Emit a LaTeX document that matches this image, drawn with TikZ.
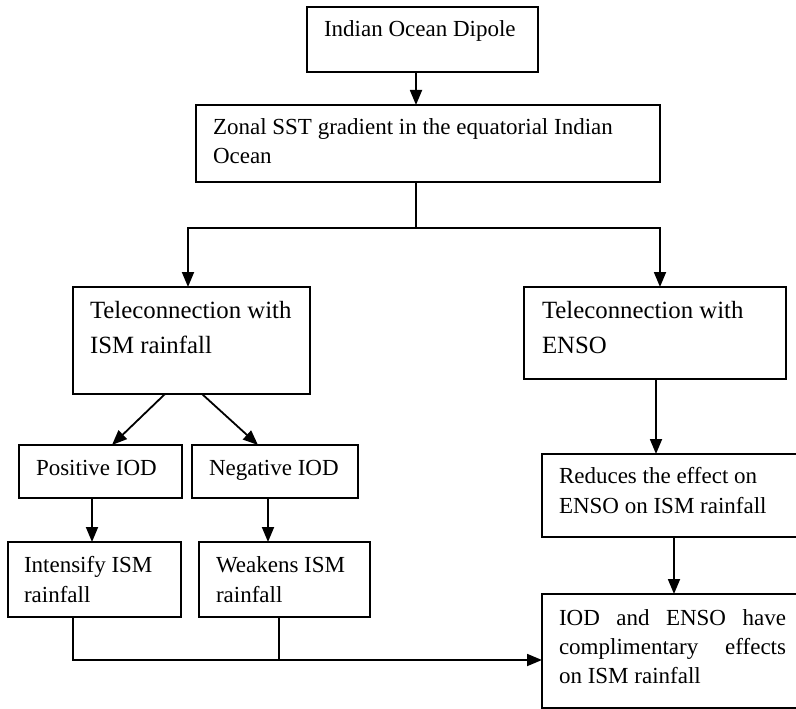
\documentclass[tikz,border=0pt]{standalone}
\usepackage{fontspec}
\setmainfont{Liberation Serif}
\usetikzlibrary{arrows.meta}
\newcommand{\mlines}[4]{\parbox[t]{#1}{\fontsize{#2}{#3}\selectfont #4}}
\newcommand{\bx}[5]{\node[box, minimum width={(#4)-(#2)}, minimum height={(#5)-(#3)}] (#1) at (#2,#3) {};}
\begin{document}
\begin{tikzpicture}[x=1pt,y=-1pt,
  box/.style={draw, line width=1.8pt, inner sep=0pt, outer sep=0pt, anchor=north west},
  txt/.style={anchor=base west, inner sep=0pt, outer sep=0pt, font=\fontsize{23}{29}\selectfont},
  conn/.style={line width=1.8pt},
  arr/.style={conn, -{Triangle[length=15pt,width=12pt]}}]
\useasboundingbox (0,0) rectangle (796,709);
\clip (0,0) rectangle (796,709);
% boxes
\bx{b1}{307}{7}{538}{72}
\bx{b2}{196}{105}{660}{182}
\bx{b3}{73}{287}{310}{394}
\bx{b4}{524}{287}{786}{379}
\bx{b5}{19}{445}{182}{498}
\bx{b6}{192}{445}{358}{498}
\bx{b7}{8}{542}{181}{617}
\bx{b8}{199}{542}{370}{617}
\bx{b9}{542}{454}{805}{537}
\bx{b10}{542}{594}{805}{708}
% texts
\node[txt] (t1) at (324,37) {Indian Ocean Dipole};
\node[txt] (t2) at (213,135) {\mlines{440pt}{23}{29}{Zonal SST gradient in the equatorial Indian\\Ocean}};
\node[txt] (t3) at (90,318) {\mlines{215pt}{24.8}{35}{Teleconnection with\\ISM rainfall}};
\node[txt] (t4) at (542,318) {\mlines{240pt}{24.8}{35}{Teleconnection with\\ENSO}};
\node[txt] (t5) at (36,475) {Positive IOD};
\node[txt] (t6) at (209,475) {Negative IOD};
\node[txt] (t7) at (24,572) {\mlines{155pt}{23}{30}{Intensify ISM\\rainfall}};
\node[txt] (t8) at (216,572) {\mlines{155pt}{23}{30}{Weakens ISM\\rainfall}};
\node[txt] (t9) at (559,483) {\mlines{230pt}{23}{30}{Reduces the effect on\\ENSO on ISM rainfall}};
\node[txt] (t10) at (559,625) {\mlines{227pt}{23}{29}{\makebox[\linewidth][s]{IOD and ENSO have}\\\makebox[\linewidth][s]{complimentary effects}\\on ISM rainfall}};
% helper coordinates
\coordinate (xa) at (416,0);
\coordinate (xl) at (188,0);
\coordinate (xr) at (660,0);
\coordinate (j) at (416,228);
\coordinate (d1) at (165,0);
\coordinate (d2) at (112,0);
\coordinate (d3) at (202,0);
\coordinate (d4) at (258,0);
\coordinate (xp) at (92,0);
\coordinate (xn) at (268,0);
\coordinate (xe) at (656,0);
\coordinate (xf) at (674,0);
\coordinate (xi) at (73,0);
\coordinate (xw) at (279,0);
\coordinate (jy) at (0,660);
% connectors
\draw[arr] (b1.south -| xa) -- (b2.north -| xa);
\draw[conn] (b2.south -| xa) -- (j);
\draw[arr] (j) -| (b3.north -| xl);
\draw[arr] (j) -| (b4.north -| xr);
\draw[arr] (b3.south -| d1) -- (b5.north -| d2);
\draw[arr] (b3.south -| d3) -- (b6.north -| d4);
\draw[arr] (b5.south -| xp) -- (b7.north -| xp);
\draw[arr] (b6.south -| xn) -- (b8.north -| xn);
\draw[arr] (b4.south -| xe) -- (b9.north -| xe);
\draw[arr] (b9.south -| xf) -- (b10.north -| xf);
\draw[arr] (b7.south -| xi) |- (b10.west |- jy);
\draw[conn] (b8.south -| xw) -- (jy -| xw);
\end{tikzpicture}
\end{document}
